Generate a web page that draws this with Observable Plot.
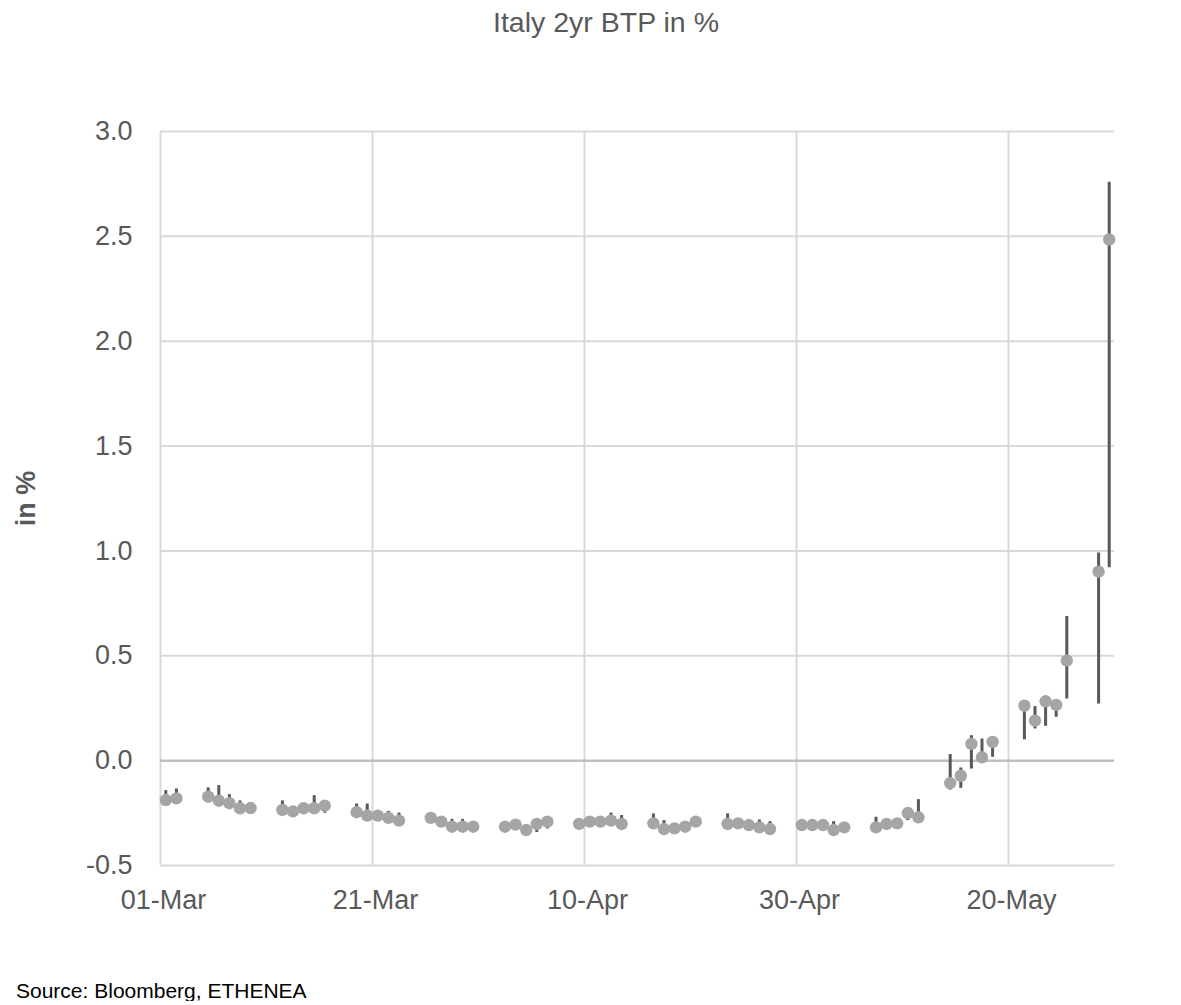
<!DOCTYPE html>
<html><head><meta charset="utf-8">
<script src="https://cdn.jsdelivr.net/npm/d3@7"></script>
<script src="https://cdn.jsdelivr.net/npm/@observablehq/plot@0.6"></script>
<style>
body{margin:0;background:#fff;font-family:"Liberation Sans",Arial,sans-serif;}
#title{height:40px;box-sizing:border-box;padding-top:8px;padding-left:31px;text-align:center;font-size:28.5px;line-height:28px;color:#595959;}
#chart{height:925px;}
#caption{padding:15px 0 0 16px;font-size:21px;line-height:21px;color:#000;}
</style></head><body>
<div id="title">Italy 2yr BTP in %</div>
<div id="chart"></div>
<div id="caption">Source: Bloomberg, ETHENEA</div>
<script>
const dates = [
  "2018-03-01","2018-03-02",
  "2018-03-05","2018-03-06","2018-03-07","2018-03-08","2018-03-09",
  "2018-03-12","2018-03-13","2018-03-14","2018-03-15","2018-03-16",
  "2018-03-19","2018-03-20","2018-03-21","2018-03-22","2018-03-23",
  "2018-03-26","2018-03-27","2018-03-28","2018-03-29","2018-03-30",
  "2018-04-02","2018-04-03","2018-04-04","2018-04-05","2018-04-06",
  "2018-04-09","2018-04-10","2018-04-11","2018-04-12","2018-04-13",
  "2018-04-16","2018-04-17","2018-04-18","2018-04-19","2018-04-20",
  "2018-04-23","2018-04-24","2018-04-25","2018-04-26","2018-04-27",
  "2018-04-30","2018-05-01","2018-05-02","2018-05-03","2018-05-04",
  "2018-05-07","2018-05-08","2018-05-09","2018-05-10","2018-05-11",
  "2018-05-14","2018-05-15","2018-05-16","2018-05-17","2018-05-18",
  "2018-05-21","2018-05-22","2018-05-23","2018-05-24","2018-05-25",
  "2018-05-28","2018-05-29"
];
const closeYield = [
  -0.188,-0.180,
  -0.172,-0.191,-0.203,-0.227,-0.226,
  -0.235,-0.242,-0.227,-0.227,-0.215,
  -0.246,-0.262,-0.262,-0.273,-0.286,
  -0.273,-0.291,-0.315,-0.315,-0.315,
  -0.315,-0.305,-0.331,-0.302,-0.291,
  -0.302,-0.291,-0.291,-0.286,-0.302,
  -0.299,-0.326,-0.323,-0.315,-0.291,
  -0.302,-0.299,-0.307,-0.318,-0.326,
  -0.307,-0.307,-0.307,-0.331,-0.318,
  -0.318,-0.302,-0.299,-0.250,-0.270,
  -0.107,-0.072,0.080,0.016,0.089,
  0.262,0.191,0.283,0.266,0.477,
  0.901,2.485
];
const highYield = [
  -0.143,-0.135,
  -0.130,-0.119,-0.162,-0.192,-0.215,
  -0.192,-0.232,-0.218,-0.167,-0.205,
  -0.207,-0.207,-0.252,-0.242,-0.250,
  -0.263,-0.281,-0.280,-0.280,-0.305,
  -0.305,-0.295,-0.321,-0.292,-0.281,
  -0.292,-0.281,-0.281,-0.250,-0.262,
  -0.254,-0.286,-0.313,-0.305,-0.281,
  -0.254,-0.289,-0.297,-0.283,-0.291,
  -0.297,-0.297,-0.297,-0.291,-0.308,
  -0.270,-0.292,-0.289,-0.240,-0.186,
  0.029,-0.035,0.119,0.103,0.099,
  0.272,0.258,0.293,0.276,0.687,
  0.990,2.758
];
const lowYield = [
  -0.195,-0.188,
  -0.180,-0.198,-0.210,-0.234,-0.233,
  -0.242,-0.249,-0.234,-0.234,-0.251,
  -0.253,-0.269,-0.269,-0.280,-0.293,
  -0.280,-0.298,-0.322,-0.322,-0.322,
  -0.322,-0.312,-0.338,-0.343,-0.326,
  -0.309,-0.298,-0.298,-0.293,-0.309,
  -0.306,-0.333,-0.330,-0.322,-0.315,
  -0.309,-0.306,-0.314,-0.325,-0.333,
  -0.314,-0.314,-0.314,-0.338,-0.325,
  -0.325,-0.309,-0.306,-0.286,-0.277,
  -0.140,-0.132,-0.040,-0.013,0.016,
  0.099,0.151,0.164,0.207,0.294,
  0.270,0.920
];
const xTicks = ["2018-03-01","2018-03-21","2018-04-10","2018-04-30","2018-05-20"];
const yTicks = [-0.5,0,0.5,1.0,1.5,2.0,2.5,3.0];
const xDomain = ["2018-03-01","2018-05-30"];

const parse = d3.utcParse("%Y-%m-%d");
const data = dates.map((d,i)=>({date: parse(d), close: closeYield[i], high: highYield[i], low: lowYield[i]}));
const mid = d => new Date(d.date.getTime() + 12*3600*1000); // Excel date axis: value centred within its day
const xt = xTicks.map(parse);
const fmt = d3.utcFormat("%d-%b");

const chart = Plot.plot({
  width: 1181,
  height: 925,
  marginLeft: 160,
  marginRight: 67,
  marginTop: 91,
  marginBottom: 100,
  style: {fontFamily: "'Liberation Sans', Arial, sans-serif", color: "#595959", background: "#fff"},
  x: {type: "utc", domain: xDomain.map(parse)},
  y: {domain: [-0.5, 3.0]},
  marks: [
    Plot.gridX({ticks: xt, stroke: "#d9d9d9", strokeOpacity: 1, strokeWidth: 2}),
    Plot.gridY({ticks: yTicks.filter(v => v !== 0), stroke: "#d9d9d9", strokeOpacity: 1, strokeWidth: 2}),
    Plot.ruleY([0], {stroke: "#bfbfbf", strokeWidth: 2.5}),
    Plot.axisX({ticks: xt, tickFormat: fmt, tickSize: 0, tickPadding: 24, fontSize: 27, fill: "#595959", dx: 3, label: null}),
    Plot.axisY({ticks: yTicks, tickFormat: d => d.toFixed(1), tickSize: 0, tickPadding: 28, fontSize: 27, fill: "#595959", label: null}),
    Plot.text(["in %"], {frameAnchor: "left", textAnchor: "middle", dx: -134, rotate: -90, fontSize: 27, fontWeight: "bold", fill: "#595959"}),
    Plot.ruleX(data, {x: mid, y1: "low", y2: "high", stroke: "#595959", strokeWidth: 3}),
    Plot.dot(data, {x: mid, y: "close", r: 6.2, fill: "#a5a5a5", stroke: "none"})
  ]
});
document.getElementById("chart").appendChild(chart);
</script>
</body></html>
